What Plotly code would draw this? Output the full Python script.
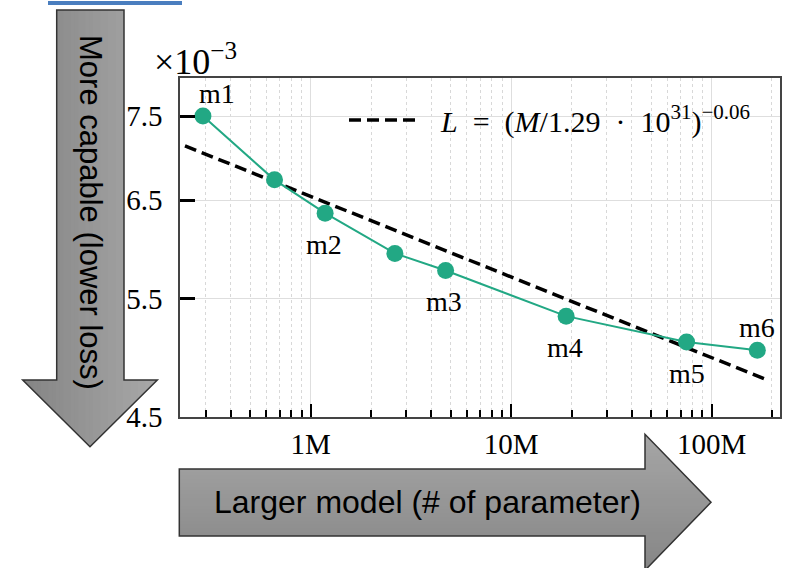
import math
import plotly.graph_objects as go

# ---------------- data ----------------
params = [0.29e6, 0.66e6, 1.18e6, 2.63e6, 4.71e6, 18.8e6, 75e6, 169e6]
loss_e3 = [7.50, 6.73, 6.36, 5.94, 5.77, 5.34, 5.11, 5.04]
point_labels = ["m1", "", "m2", "", "m3", "m4", "m5", "m6"]
label_above = [True, False, False, False, False, False, False, True]
label_dx = [14, 0, -1, 0, -2, -1, 0, 0]

fit_params = [2.36e5, 1.84e8]
fit_loss_e3 = [7.13, 4.80]
fit_label = ("&nbsp;&nbsp;<i>L</i>&nbsp; = &nbsp;(<i>M</i>/1.29&nbsp; · &nbsp;10<sup>31</sup>)"
             "<sup>−0.06</sup>")

x_tickvals = [1e6, 1e7, 1e8]
x_ticktext = ["1M", "10M", "100M"]
x_minor = [k * 10 ** e for e in (5, 6, 7, 8) for k in range(2, 10)]
y_tickvals = [4.5, 5.5, 6.5, 7.5]
y_ticktext = ["4.5", "5.5", "6.5", "7.5"]

y_title = "More capable (lower loss)"
x_title = "Larger model (# of parameter)"

# ---------------- figure geometry ----------------
W, H = 793, 568
def px(x):
    return x / W
def py(y):
    return 1 - y / H

SERIF = "Liberation Serif"
SANS = "Liberation Sans"
TEAL = "#22a884"

fig = go.Figure()

fig.add_trace(go.Scatter(
    x=fit_params, y=fit_loss_e3, mode="lines", name=fit_label,
    line=dict(color="black", width=3.5, dash="12px,6px"),
    showlegend=True,
))
fig.add_trace(go.Scatter(
    x=params, y=loss_e3, mode="lines+markers", name="models",
    line=dict(color=TEAL, width=2),
    marker=dict(color=TEAL, size=17),
    showlegend=False,
))

for xv, yv, t, above, dx in zip(params, loss_e3, point_labels, label_above, label_dx):
    if not t:
        continue
    fig.add_annotation(
        x=math.log10(xv), y=math.log10(yv), xref="x", yref="y",
        text=t, showarrow=False, xshift=dx, yshift=(23 if above else -31),
        xanchor="center", yanchor="middle",
        font=dict(family=SERIF, size=28, color="black"),
    )

# ×10^-3 offset text
fig.add_annotation(
    x=px(152), y=py(60), xref="paper", yref="paper", xanchor="left", yanchor="middle",
    text="×10<sup>−3</sup>", showarrow=False,
    font=dict(family=SERIF, size=36, color="black"),
)

# ---------------- decorative arrows (gradient via strips) ----------------
def path(points):
    return "M " + " L ".join(f"{px(a):.5f},{py(b):.5f}" for a, b in points) + " Z"

def clip(poly, axis, lo, hi):
    def clip_half(pts, keep, inter):
        out = []
        n = len(pts)
        for i in range(n):
            cur, prev = pts[i], pts[i - 1]
            if keep(cur):
                if not keep(prev):
                    out.append(inter(prev, cur))
                out.append(cur)
            elif keep(prev):
                out.append(inter(prev, cur))
        return out

    def make_inter(v):
        def inter(p, q):
            t = (v - p[axis]) / (q[axis] - p[axis])
            return (p[0] + t * (q[0] - p[0]), p[1] + t * (q[1] - p[1]))
        return inter

    pts = clip_half(poly, lambda p: p[axis] >= lo, make_inter(lo))
    if not pts:
        return pts
    return clip_half(pts, lambda p: p[axis] <= hi, make_inter(hi))

def mix(c0, c1, t):
    a = [int(c0[i:i + 2], 16) for i in (1, 3, 5)]
    b = [int(c1[i:i + 2], 16) for i in (1, 3, 5)]
    return "#" + "".join(f"{round(a[k] + (b[k] - a[k]) * t):02x}" for k in range(3))

def gradient_arrow(poly, axis, c0, c1, n=36):
    vals = [p[axis] for p in poly]
    lo, hi = min(vals), max(vals)
    step = (hi - lo) / n
    for i in range(n):
        a = lo + i * step - 0.6
        b = lo + (i + 1) * step + 0.6
        part = clip(poly, axis, a, b)
        if len(part) >= 3:
            fig.add_shape(type="path", path=path(part), xref="paper", yref="paper",
                          fillcolor=mix(c0, c1, (i + 0.5) / n),
                          line=dict(width=0), layer="below")
    fig.add_shape(type="path", path=path(poly), xref="paper", yref="paper",
                  fillcolor="rgba(0,0,0,0)", line=dict(color="#333333", width=1.5),
                  layer="below")

down_arrow = [(56.7, 10), (124, 10), (124, 380), (157.3, 380), (90, 446.7),
              (22.7, 380), (56.7, 380)]
right_arrow = [(179.3, 469), (645, 469), (645, 434.3), (711, 502.3), (645, 570.3),
               (645, 536), (179.3, 536)]
gradient_arrow(down_arrow, 0, "#848484", "#a8a8a8")
gradient_arrow(right_arrow, 1, "#a6a6a6", "#868686")

fig.add_annotation(x=px(90), y=py(212), xref="paper", yref="paper", text=y_title,
                   textangle=90, showarrow=False, xanchor="center", yanchor="middle",
                   font=dict(family=SANS, size=31, color="black"))
fig.add_annotation(x=px(427.5), y=py(502), xref="paper", yref="paper", text=x_title,
                   showarrow=False, xanchor="center", yanchor="middle",
                   font=dict(family=SANS, size=32, color="black"))

# blue underline fragment at the top
fig.add_shape(type="line", x0=px(48), x1=px(182), y0=py(3), y1=py(3),
              xref="paper", yref="paper", line=dict(color="#4a7ebf", width=4))

fig.update_layout(
    width=W, height=H,
    margin=dict(l=0, r=0, t=0, b=0, autoexpand=False),
    paper_bgcolor="white", plot_bgcolor="white",
    font=dict(family=SERIF, size=29, color="black"),
    legend=dict(x=px(344), y=py(120), xanchor="left", yanchor="middle",
                bgcolor="rgba(0,0,0,0)", itemwidth=72,
                font=dict(family=SERIF, size=30, color="black")),
    xaxis=dict(
        type="log", domain=[px(180), px(780)], range=[5.348, 8.341],
        tickvals=x_tickvals, ticktext=x_ticktext, automargin=False,
        ticks="inside", ticklen=13, tickwidth=2, tickcolor="black",
        ticklabelstandoff=0,
        showline=True, linecolor="#444444", linewidth=1.5, mirror=True,
        showgrid=True, gridcolor="#dedede", gridwidth=1,
        minor=dict(tickvals=x_minor, ticks="inside", ticklen=7, tickwidth=1.5,
                   tickcolor="black", showgrid=True, gridcolor="#d8d8d8",
                   griddash="dot", gridwidth=1),
        zeroline=False,
    ),
    yaxis=dict(
        type="log", domain=[py(417), py(78)],
        range=[math.log10(4.5), math.log10(8.0)],
        tickvals=y_tickvals, ticktext=y_ticktext, automargin=False,
        ticks="inside", ticklen=15, tickwidth=2.5, tickcolor="black",
        ticklabelstandoff=10,
        showline=True, linecolor="#444444", linewidth=1.5, mirror=True,
        showgrid=True, gridcolor="#dedede", gridwidth=1,
        zeroline=False,
    ),
)

fig.write_html("out.html", config={"displayModeBar": False},
               post_script="document.body.style.margin='0';")
